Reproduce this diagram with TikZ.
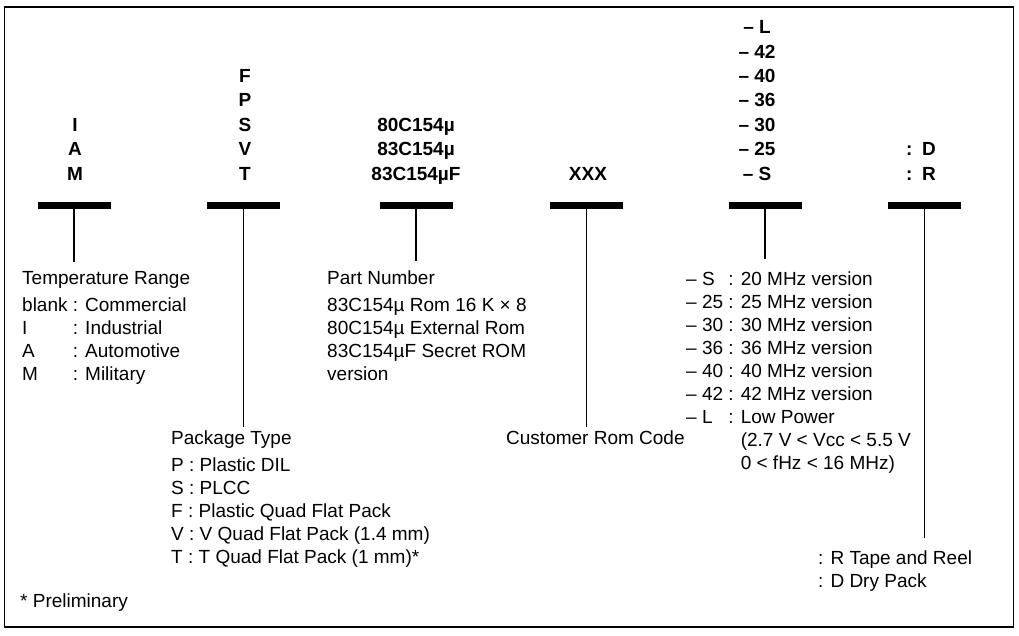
\documentclass[tikz,border=0pt]{standalone}
\usepackage{fontspec}
\setmainfont{Liberation Sans}
\begin{document}
\begin{tikzpicture}[x=1pt,y=-1pt,
  bar/.style={fill=black,minimum width=73pt,minimum height=7pt,inner sep=0pt},
  conn/.style={line width=1.3pt},
  code/.style={font=\fontsize{19}{24.4}\selectfont\bfseries,inner sep=0pt,anchor=base},
  desc/.style={font=\fontsize{19}{23}\selectfont,inner sep=0pt,anchor=base west},
  frame/.style={line width=1.3pt}]
\useasboundingbox (0,0) rectangle (1019,635);
\draw[frame] (4.5,7) rectangle (1013.5,627);
% bars
\node[bar] (b1) at (74,205.5) {};
\node[bar] (b2) at (243.5,205.5) {};
\node[bar] (b3) at (416,205.5) {};
\node[bar] (b4) at (586.5,205.5) {};
\node[bar] (b5) at (765,205.5) {};
\node[bar] (b6) at (924.5,205.5) {};
% codes
\node[code] (c1) at (75,180) {\begin{tabular}[b]{@{}c@{}}I\\A\\M\end{tabular}};
\node[code] (c2) at (245,180) {\begin{tabular}[b]{@{}c@{}}F\\P\\S\\V\\T\end{tabular}};
\node[code] (c3) at (416,180) {\begin{tabular}[b]{@{}c@{}}80C154µ\\83C154µ\\83C154µF\end{tabular}};
\node[code] (c4) at (588,180) {XXX};
\node[code] (c5) at (757,180) {\begin{tabular}[b]{@{}c@{}}– L\\– 42\\– 40\\– 36\\– 30\\– 25\\– S\end{tabular}};
\node[code] (c6) at (921,180) {\begin{tabular}[b]{@{}c@{}}:\enspace D\\:\enspace R\end{tabular}};
% descriptions
\node[desc] (d1) at (22,284) {\begin{tabular}[t]{@{}l@{\ }l@{}}\multicolumn{2}{@{}l@{}}{Temperature Range}\\[4pt]
blank & : Commercial\\ I & : Industrial\\ A & : Automotive\\ M & : Military\end{tabular}};
\node[desc] (d2) at (171,444) {\begin{tabular}[t]{@{}l@{}}Package Type\\[4pt]
P : Plastic DIL\\ S : PLCC\\ F : Plastic Quad Flat Pack\\ V : V Quad Flat Pack (1.4 mm)\\ T : T Quad Flat Pack (1 mm)*\end{tabular}};
\node[desc] (d3) at (327,284) {\begin{tabular}[t]{@{}l@{}}Part Number\\[4pt]
83C154µ Rom 16 K × 8\\ 80C154µ External Rom\\ 83C154µF Secret ROM\\ version\end{tabular}};
\node[desc] (d4) at (506,444) {Customer Rom Code};
\node[desc] (d5) at (686,285) {\begin{tabular}[t]{@{}l@{\ }l@{}}
– S & : 20 MHz version\\ – 25 & : 25 MHz version\\ – 30 & : 30 MHz version\\ – 36 & : 36 MHz version\\
– 40 & : 40 MHz version\\ – 42 & : 42 MHz version\\ – L & : Low Power\\
 & \phantom{: }(2.7 V < Vcc < 5.5 V\\ & \phantom{: }0 < fHz < 16 MHz)\end{tabular}};
\node[desc] (d6) at (818,564) {\begin{tabular}[t]{@{}l@{}}: R Tape and Reel\\ : D Dry Pack\end{tabular}};
\node[desc] (d7) at (20,607) {* Preliminary};
% connector ends
\coordinate (e1) at (74,262);
\coordinate (e2) at (243.5,427);
\coordinate (e3) at (416,261);
\coordinate (e4) at (586.5,427);
\coordinate (e5) at (765,259);
\coordinate (e6) at (924.5,538);
\draw[conn] (b1.south) -- (e1);
\draw[conn] (b2.south) -- (e2);
\draw[conn] (b3.south) -- (e3);
\draw[conn] (b4.south) -- (e4);
\draw[conn] (b5.south) -- (e5);
\draw[conn] (b6.south) -- (e6);
\end{tikzpicture}
\end{document}
